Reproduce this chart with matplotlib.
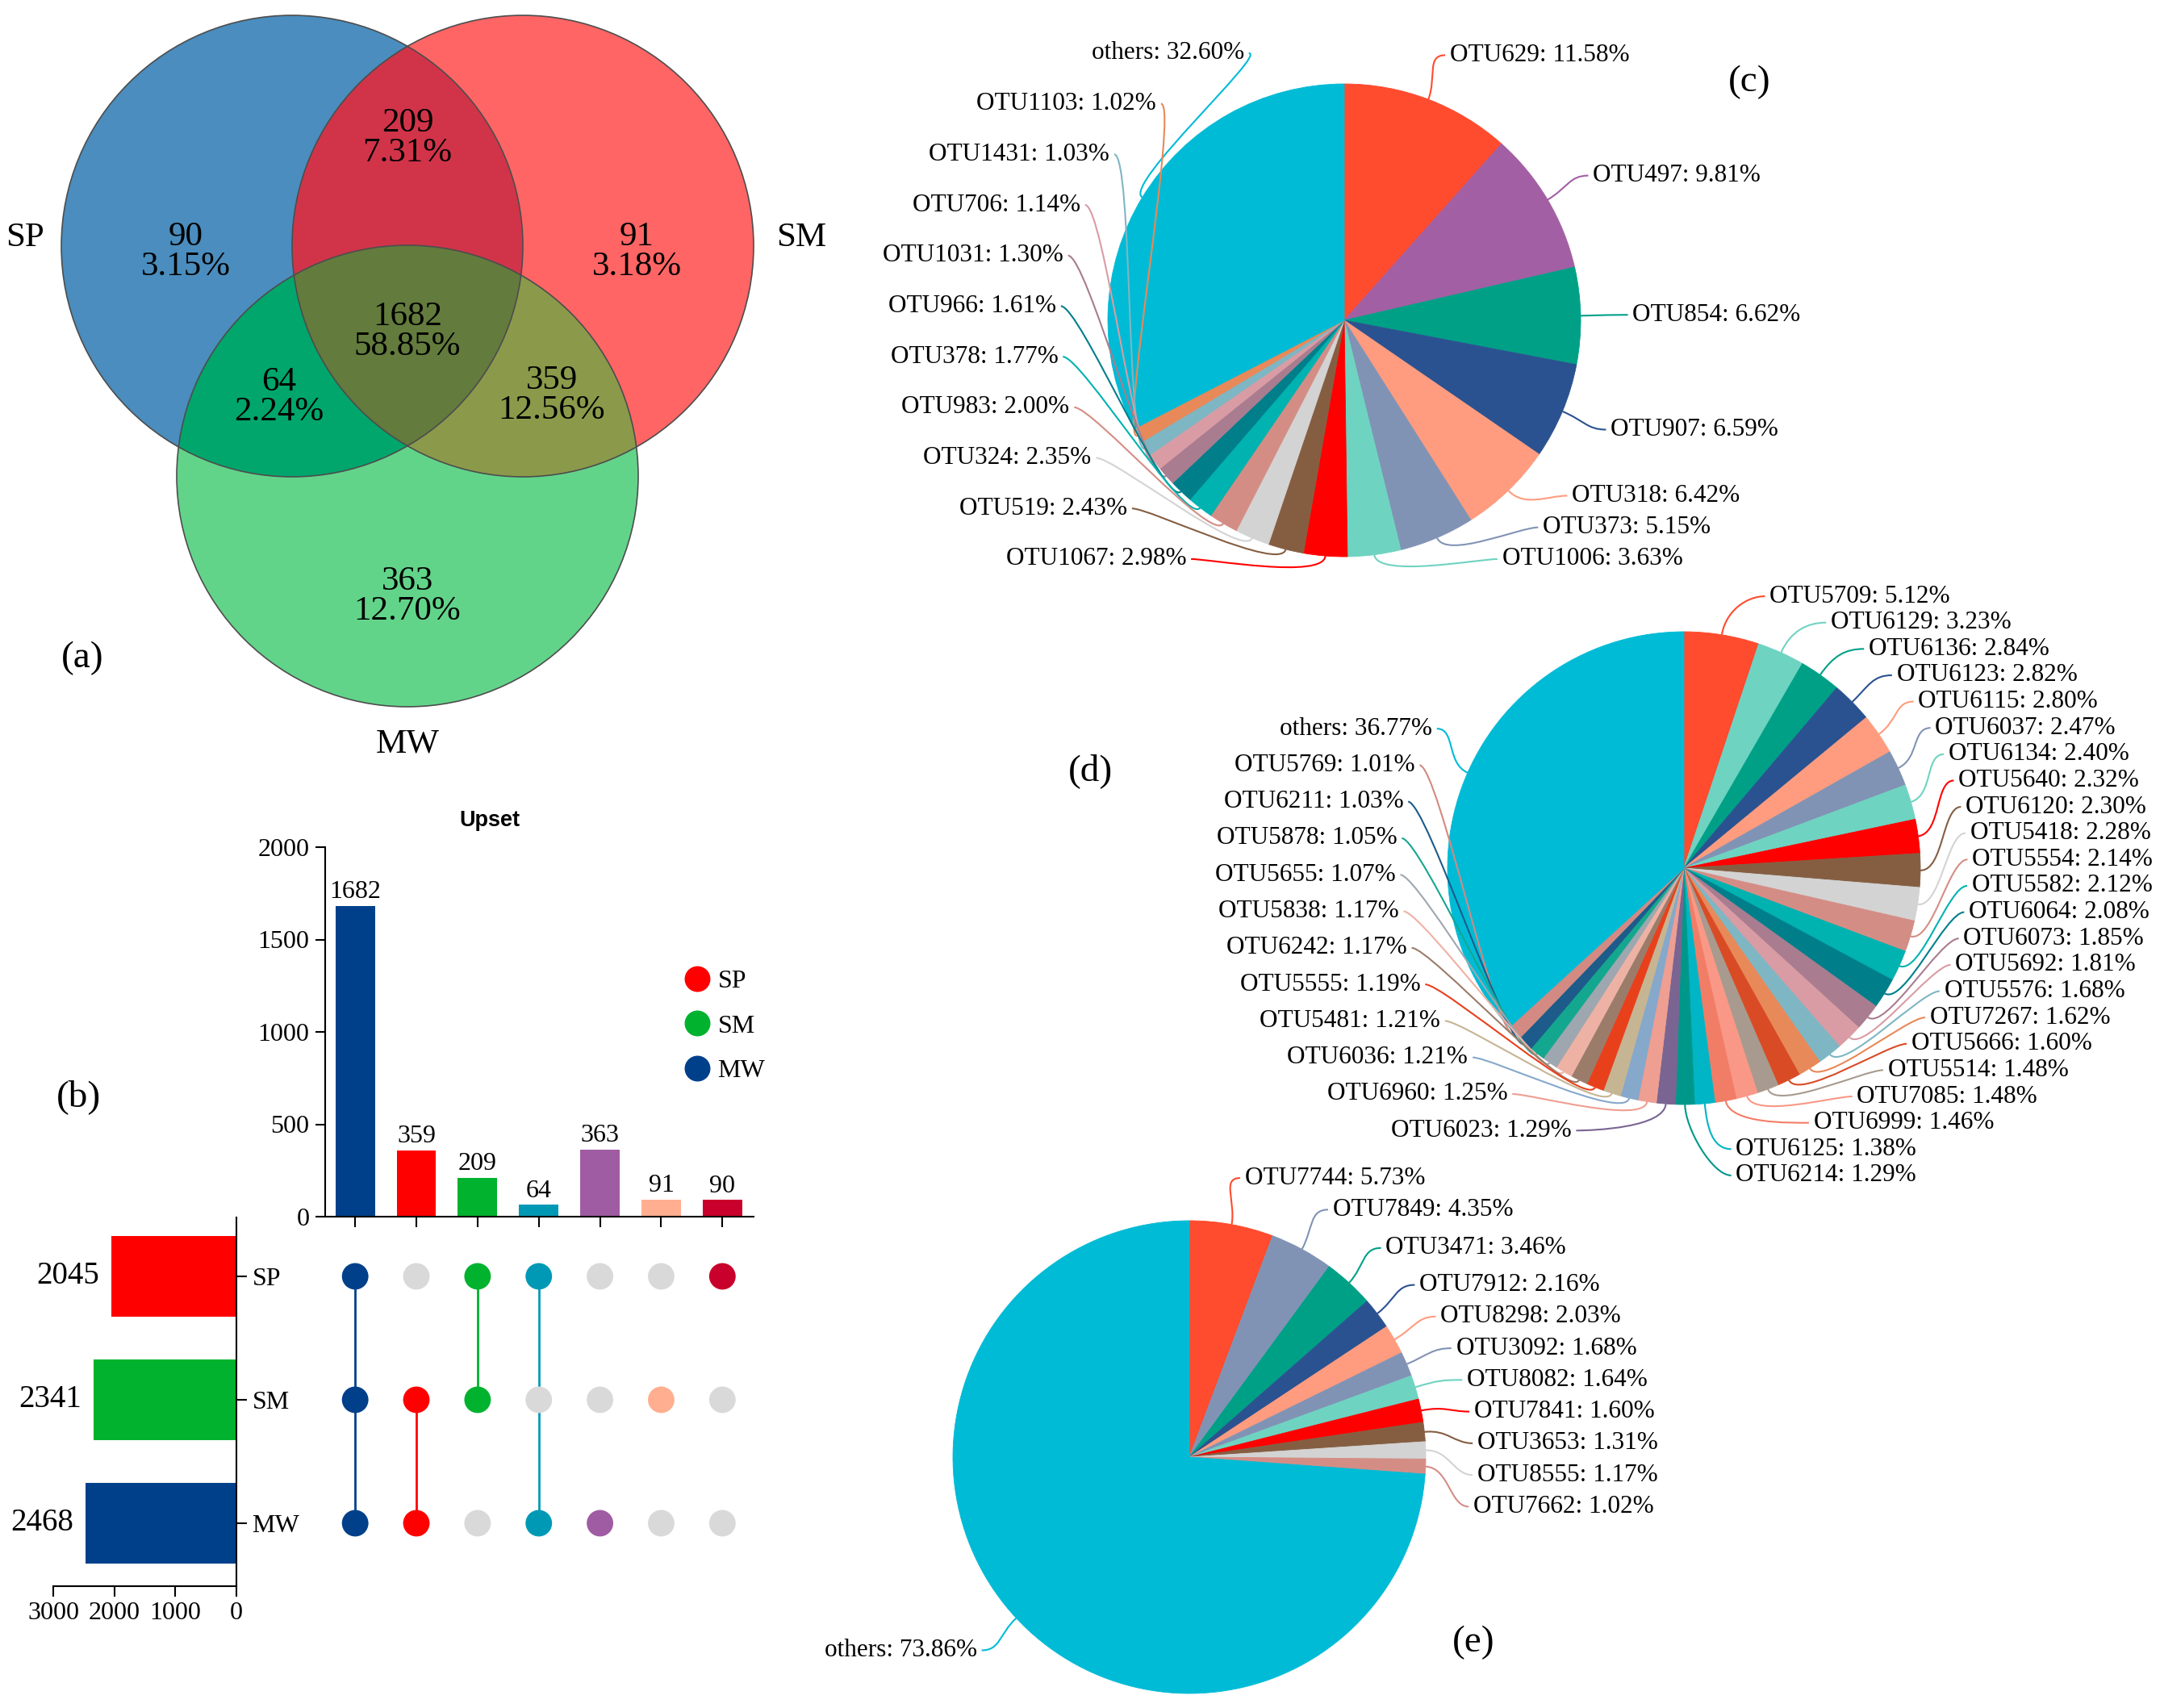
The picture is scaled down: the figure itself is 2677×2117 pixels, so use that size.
import numpy as np
import matplotlib
matplotlib.use("Agg")
import matplotlib.pyplot as plt
from matplotlib.patches import Circle, Polygon, PathPatch
from matplotlib.path import Path
from matplotlib.lines import Line2D

plt.rcParams['font.family'] = ['Liberation Serif', 'DejaVu Serif']

# ---- data ----
venn_sets = ['SP', 'SM', 'MW']
venn_regions = ['SP', 'SM', 'MW', 'SP&SM', 'SP&MW', 'SM&MW', 'SP&SM&MW']
venn_counts = [90, 91, 363, 209, 64, 359, 1682]

upset_counts = [1682, 359, 209, 64, 363, 91, 90]
upset_members = [('SP', 'SM', 'MW'), ('SM', 'MW'), ('SP', 'SM'), ('SP', 'MW'),
                 ('MW',), ('SM',), ('SP',)]

c_names = ['OTU629', 'OTU497', 'OTU854', 'OTU907', 'OTU318', 'OTU373', 'OTU1006',
           'OTU1067', 'OTU519', 'OTU324', 'OTU983', 'OTU378', 'OTU966', 'OTU1031',
           'OTU706', 'OTU1431', 'OTU1103', 'others']
c_values = [11.58, 9.81, 6.62, 6.59, 6.42, 5.15, 3.63, 2.98, 2.43, 2.35, 2.00, 1.77,
            1.61, 1.30, 1.14, 1.03, 1.02, 32.60]

d_names = ['OTU5709', 'OTU6129', 'OTU6136', 'OTU6123', 'OTU6115', 'OTU6037', 'OTU6134',
           'OTU5640', 'OTU6120', 'OTU5418', 'OTU5554', 'OTU5582', 'OTU6064', 'OTU6073',
           'OTU5692', 'OTU5576', 'OTU7267', 'OTU5666', 'OTU5514', 'OTU7085', 'OTU6999',
           'OTU6125', 'OTU6214', 'OTU6023', 'OTU6960', 'OTU6036', 'OTU5481', 'OTU5555',
           'OTU6242', 'OTU5838', 'OTU5655', 'OTU5878', 'OTU6211', 'OTU5769', 'others']
d_values = [5.12, 3.23, 2.84, 2.82, 2.80, 2.47, 2.40, 2.32, 2.30, 2.28, 2.14, 2.12,
            2.08, 1.85, 1.81, 1.68, 1.62, 1.60, 1.48, 1.48, 1.46, 1.38, 1.29, 1.29,
            1.25, 1.21, 1.21, 1.19, 1.17, 1.17, 1.07, 1.05, 1.03, 1.01, 36.77]

e_names = ['OTU7744', 'OTU7849', 'OTU3471', 'OTU7912', 'OTU8298', 'OTU3092', 'OTU8082',
           'OTU7841', 'OTU3653', 'OTU8555', 'OTU7662', 'others']
e_values = [5.73, 4.35, 3.46, 2.16, 2.03, 1.68, 1.64, 1.60, 1.31, 1.17, 1.02, 73.86]

# ---- colours ----
venn_fill = {'SP': '#4A8DBE', 'SM': '#FF6565', 'MW': '#62D48A', 'SP&SM': '#D13449',
             'SP&MW': '#00A66B', 'SM&MW': '#8A9A4A', 'SP&SM&MW': '#637B3C'}
upset_colors = ['#00408A', '#FF0000', '#00B22E', '#0099B5', '#A05CA2', '#FFAF90', '#C8002B']
set_colors = ['#FF0000', '#00B22E', '#00408A']
grey_dot = '#D9D9D9'
others_col = '#00BBD6'
base = ['#FF4B2E', '#6FD3C1', '#00A087', '#2B5290', '#FF9C7F', '#8193B5', '#6FD3C1',
        '#FF0000', '#855E42', '#D3D3D3', '#D48D85', '#00B2B0', '#007F8B', '#A97C8F',
        '#D99CA4', '#7EB6C3', '#E88959']
c_colors = [base[0], '#A35FA3'] + base[2:] + [others_col]
d_colors = base + ['#D94B25', '#A89A8E', '#F99886', '#F27D66', '#00B5C5', '#00978B',
                   '#7A6491', '#EF9E92', '#85A8CB', '#C6B593', '#E8401B', '#9B7C6B',
                   '#EEB2A4', '#9EA7AF', '#14A78F', '#1C5B8A', '#D28A82'] + [others_col]
e_colors = [base[0], '#8193B5'] + base[2:11] + [others_col]

W, H = 2677, 2117
fig = plt.figure(figsize=(W / 100, H / 100), dpi=100)


def px_axes(x0, y0, x1, y1):
    return fig.add_axes([x0 / W, 1 - y1 / H, (x1 - x0) / W, (y1 - y0) / H])


# ---- (a) Venn ----
ov = fig.add_axes([0, 0, 1, 1])
ov.set_xlim(0, W)
ov.set_ylim(H, 0)
ov.axis('off')

r = 286
sp_c = np.array([362.0, 305.0])
centers = {'SP': sp_c, 'SM': sp_c + [r, 0], 'MW': sp_c + [r / 2, 285]}


def disk_intersection(names, n=3000):
    pts = []
    t = np.linspace(0, 2 * np.pi, n, endpoint=False)
    for s in names:
        p = centers[s] + r * np.c_[np.cos(t), np.sin(t)]
        ok = np.ones(n, bool)
        for o in names:
            if o != s:
                ok &= np.hypot(*(p - centers[o]).T) <= r + 1e-6
        pts.append(p[ok])
    pts = np.vstack(pts)
    m = pts.mean(axis=0)
    order = np.argsort(np.arctan2(pts[:, 1] - m[1], pts[:, 0] - m[0]))
    return pts[order]


for s in venn_sets:
    ov.add_patch(Circle(centers[s], r, facecolor=venn_fill[s], edgecolor='none', zorder=1))
for reg in ['SP&SM', 'SP&MW', 'SM&MW', 'SP&SM&MW']:
    mem = reg.split('&')
    ov.add_patch(Polygon(disk_intersection(mem), closed=True, facecolor=venn_fill[reg],
                         edgecolor='none', zorder=2 + len(mem)))
for s in venn_sets:
    ov.add_patch(Circle(centers[s], r, facecolor='none', edgecolor='#4D4D4D', lw=1.2, zorder=6))

# label anchors: mean of member centres, nudged into the visible region
nudge = {'SP': (-132, 7), 'SM': (141, 7), 'MW': (0, 149), 'SP&SM': (0, -134),
         'SP&MW': (-88, 45), 'SM&MW': (107, 43), 'SP&SM&MW': (0, 11)}
total = sum(venn_counts)
for reg, cnt in zip(venn_regions, venn_counts):
    mem = reg.split('&')
    x, y = np.mean([centers[s] for s in mem], axis=0) + nudge[reg]
    ov.text(x, y, f'{cnt}\n{cnt / total * 100:.2f}%', ha='center', va='center',
            fontsize=31, linespacing=0.95, zorder=7)

ov.text(centers['SP'][0] - r - 45, centers['SP'][1] - 10, 'SP', ha='center', va='center', fontsize=31)
ov.text(centers['SM'][0] + r + 59, centers['SM'][1] - 10, 'SM', ha='center', va='center', fontsize=31)
ov.text(centers['MW'][0], centers['MW'][1] + r + 46, 'MW', ha='center', va='center', fontsize=31)

# ---- (b) Upset ----
cols = np.arange(len(upset_counts))
xl = (-0.49, 6.51)
row_y = {'SP': 2, 'SM': 1, 'MW': 0}
yl = (-0.51, 2.477)

ax_bar = px_axes(403, 1050, 934, 1508)
ax_bar.bar(cols, upset_counts, width=0.645, color=upset_colors)
for x, v in zip(cols, upset_counts):
    ax_bar.text(x, v + 12, str(v), ha='center', va='bottom', fontsize=23)
ax_bar.set_xlim(*xl)
ax_bar.set_ylim(0, 2000)
ax_bar.set_yticks([0, 500, 1000, 1500, 2000])
ax_bar.set_xticks(cols)
ax_bar.set_xticklabels([])
for sp in ['top', 'right']:
    ax_bar.spines[sp].set_visible(False)
for sp in ['left', 'bottom']:
    ax_bar.spines[sp].set_linewidth(1.5)
ax_bar.tick_params(length=9, width=1.5, labelsize=23, pad=5)
handles = [Line2D([], [], marker='o', ls='', color=c, markersize=22) for c in set_colors]
ax_bar.legend(handles, venn_sets, loc='center left', bbox_to_anchor=(848 / W, 1 - 1272 / H),
              bbox_transform=fig.transFigure, frameon=False, fontsize=23, handletextpad=0.3,
              handlelength=1.0, labelspacing=0.82, borderpad=0, borderaxespad=0)
fig.text(607 / W, 1 - 1017 / H, 'Upset', ha='center', va='center', fontsize=19.5,
         fontweight='bold', family='Liberation Sans')

ax_mat = px_axes(403, 1509, 934, 1966)
ax_mat.set_xlim(*xl)
ax_mat.set_ylim(*yl)
ax_mat.axis('off')
for i, mem in enumerate(upset_members):
    for s in venn_sets:
        ax_mat.scatter(i, row_y[s], s=560, color=upset_colors[i] if s in mem else grey_dot,
                       edgecolor='none', zorder=3)
    ys = [row_y[s] for s in mem]
    if len(ys) > 1:
        ax_mat.plot([i, i], [min(ys), max(ys)], color=upset_colors[i], lw=2, zorder=2)

set_sizes = [sum(c for c, m in zip(upset_counts, upset_members) if s in m) for s in venn_sets]
ax_set = px_axes(66, 1509, 293, 1966)
ax_set.barh([row_y[s] for s in venn_sets], set_sizes, height=0.65, color=set_colors)
for s, v in zip(venn_sets, set_sizes):
    ax_set.text(v + 200, row_y[s], str(v), ha='right', va='center', fontsize=28)
ax_set.set_xlim(3000, 0)
ax_set.set_ylim(*yl)
ax_set.set_xticks([3000, 2000, 1000, 0])
ax_set.yaxis.tick_right()
ax_set.set_yticks([row_y[s] for s in venn_sets])
ax_set.set_yticklabels(venn_sets)
for sp in ['top', 'left']:
    ax_set.spines[sp].set_visible(False)
for sp in ['right', 'bottom']:
    ax_set.spines[sp].set_linewidth(1.5)
ax_set.tick_params(length=9, width=1.5, labelsize=23, pad=5)


# ---- (c)(d)(e) pies ----
def side_positions(natural, mode, lo, hi, gap=0.134):
    if mode == 'spread' and len(natural) > 1:
        return np.linspace(hi, lo, len(natural))
    ys = list(natural)
    for k in range(1, len(ys)):
        ys[k] = min(ys[k], ys[k - 1] - gap)
    for k in range(len(ys) - 1, -1, -1):
        floor = lo if k == len(ys) - 1 else ys[k + 1] + gap
        ys[k] = max(ys[k], floor)
    return np.array(ys)


def draw_pie(cx, cy, names, values, colors, cfg):
    R = 293
    ax = px_axes(cx - R, cy - R, cx + R, cy + R)
    wedges = ax.pie(values, colors=colors, startangle=90, counterclock=False, radius=1)[0]
    for w in wedges:
        w.set_edgecolor(w.get_facecolor())
        w.set_linewidth(0.6)
    ax.set_xlim(-1, 1)
    ax.set_ylim(-1, 1)
    vals = np.array(values)
    mid = np.cumsum(vals) - vals / 2
    th = np.deg2rad(90 - 360 * mid / vals.sum())
    right_idx = [i for i in range(len(vals)) if np.cos(th[i]) >= -1e-9]
    left_idx = [i for i in range(len(vals)) if np.cos(th[i]) < -1e-9][::-1]
    rl = 1.2
    for idx, sign, side in [(right_idx, 1, 'right'), (left_idx, -1, 'left')]:
        if not idx:
            continue
        mode, lo, hi = cfg[side]
        nat = [rl * np.sin(th[i]) for i in idx]
        ys = side_positions(nat, mode, lo, hi)
        for i, ly in zip(idx, ys):
            lx = sign * np.sqrt(max(rl ** 2 - ly ** 2, 0.2 ** 2))
            p0 = (np.cos(th[i]), np.sin(th[i]))
            p1 = (1.1 * np.cos(th[i]), 1.1 * np.sin(th[i]))
            p2 = (lx - sign * 0.08, ly)
            path = Path([p0, p1, p2, (lx, ly)], [Path.MOVETO, Path.CURVE4, Path.CURVE4, Path.CURVE4])
            ax.add_patch(PathPatch(path, facecolor='none', edgecolor=colors[i], lw=1.5,
                                   clip_on=False))
            ax.text(lx + sign * 0.02, ly, f'{names[i]}: {values[i]:.2f}%',
                    ha='left' if sign > 0 else 'right', va='center', fontsize=22.5,
                    clip_on=False)
    return ax


draw_pie(1666, 397, c_names, c_values, c_colors,
         {'right': ('push', -1.01, None), 'left': ('spread', -1.01, 1.13)})
draw_pie(2087, 1076, d_names, d_values, d_colors,
         {'right': ('spread', -1.30, 1.15), 'left': ('spread', -1.11, 0.59)})
draw_pie(1474, 1806, e_names, e_values, e_colors,
         {'right': ('push', -1.3, None), 'left': ('push', -1.3, None)})

# ---- panel letters ----
for lab, x, y in [('(a)', 102, 816), ('(b)', 97, 1360), ('(c)', 2168, 102),
                  ('(d)', 1352, 956), ('(e)', 1826, 2036)]:
    fig.text(x / W, 1 - y / H, lab, ha='center', va='center', fontsize=34)

fig.savefig('out.png', dpi=100)
